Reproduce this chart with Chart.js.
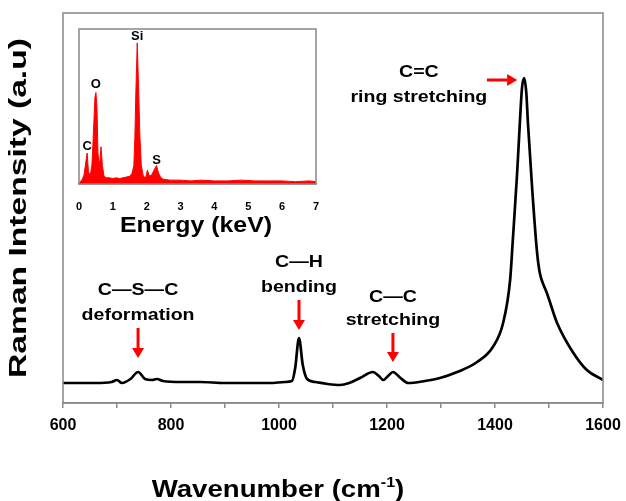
<!DOCTYPE html>
<html>
<head>
<meta charset="utf-8">
<script src="https://cdn.jsdelivr.net/npm/chart.js@4.4.1/dist/chart.umd.min.js"></script>
<style>
html, body { margin:0; padding:0; background:#fff; }
#wrap { position:relative; width:626px; height:501px; }
#main { position:absolute; left:0; top:0; }
#inset { position:absolute; left:64px; top:14px; }
</style>
</head>
<body>
<div id="wrap">
  <canvas id="main" width="626" height="501"></canvas>
  <canvas id="inset" width="266" height="226"></canvas>
</div>
<script>
// ---- Raman spectrum (main plot) ----
const ramanWavenumber = [600,630,660,690,700,709,725,739,752,765,774,785,820,854,900,950,983,1011,1024,1030,1037,1044,1052,1067,1090,1113,1130,1150,1174,1185,1193,1202,1211,1225,1239,1270,1298,1330,1367,1396,1415,1428,1433,1441,1446,1450,1454,1458,1461,1469,1478,1483,1490,1496,1515,1544,1570,1600];
const ramanIntensity  = [20,20,20,21,23,20,24,31,24,23,24,22,21,21,20,20,20,21,22,35,65,38,24,21,19,18,20,25,31,27,23,27,31,25,20,22,25,31,41,56,80,123,163,230,280,315,325,310,280,213,150,130,118,110,80,51,33,23];
const xTicksMain = [600,800,1000,1200,1400,1600];

// band assignments: label lines, text anchor (wavenumber, intensity per line), arrow from -> to
const ramanNotes = [
  { lines:['C\u2014S\u2014C','deformation'], x:739,  y:[113,88],  arrow:[739,75,739,45] },
  { lines:['C\u2014H','bending'],            x:1037, y:[141,116], arrow:[1037,103,1037,73] },
  { lines:['C\u2014C','stretching'],         x:1211, y:[106,83],  arrow:[1211,70,1211,41] },
  { lines:['C=C','ring stretching'],         x:1259, y:[331,306], arrow:[1385,323,1441,323] }
];

// ---- EDS spectrum (inset) ----
const edsEnergy = [0,0.05,0.1,0.15,0.2,0.24,0.28,0.33,0.38,0.41,0.44,0.47,0.5,0.53,0.56,0.59,0.62,0.65,0.69,0.74,0.8,0.9,1.0,1.1,1.2,1.3,1.4,1.5,1.57,1.62,1.65,1.68,1.72,1.76,1.8,1.84,1.9,1.97,2.02,2.08,2.15,2.22,2.29,2.35,2.42,2.5,2.7,3.0,3.3,3.6,4.0,4.4,4.8,5.2,5.6,6.0,6.4,6.8,7.0];
const edsCounts = [0,2,3,6,14,20,8,5,12,25,40,56,59,50,20,14,15,24,12,5,4,4,3.5,4,3.5,4,4.5,5,7,12,30,60,91,62,30,12,5,4,9,5,6,9,12,7,4,3,2.5,2.5,2,2.5,2,2,2.5,2,2,2,1.5,2,1.5];
const edsPeaks = [
  { text:'C',  e:0.24, c:24 },
  { text:'O',  e:0.50, c:64 },
  { text:'Si', e:1.72, c:95 },
  { text:'S',  e:2.29, c:15 }
];

const FONT = "'Liberation Sans', Arial, sans-serif";

function stretchText(ctx, text, x, y, sx, rot) {
  ctx.save();
  ctx.translate(x, y);
  if (rot) ctx.rotate(rot);
  ctx.scale(sx, 1);
  ctx.fillText(text, 0, 0);
  ctx.restore();
}

function redArrow(ctx, x1, y1, x2, y2) {
  const ang = Math.atan2(y2 - y1, x2 - x1);
  const head = 10, half = 6;
  ctx.save();
  ctx.strokeStyle = '#ff0000'; ctx.fillStyle = '#ff0000'; ctx.lineWidth = 3;
  ctx.beginPath();
  ctx.moveTo(x1, y1);
  ctx.lineTo(x2 - head * Math.cos(ang), y2 - head * Math.sin(ang));
  ctx.stroke();
  ctx.beginPath();
  ctx.moveTo(x2, y2);
  ctx.lineTo(x2 - head * Math.cos(ang) + half * Math.sin(ang), y2 - head * Math.sin(ang) - half * Math.cos(ang));
  ctx.lineTo(x2 - head * Math.cos(ang) - half * Math.sin(ang), y2 - head * Math.sin(ang) + half * Math.cos(ang));
  ctx.closePath();
  ctx.fill();
  ctx.restore();
}

const mainDecor = {
  id: 'mainDecor',
  afterDraw(chart) {
    const { ctx, chartArea: a, scales: { x, y } } = chart;
    ctx.save();
    ctx.strokeStyle = '#888'; ctx.lineWidth = 1.5;
    ctx.strokeRect(a.left, a.top, a.right - a.left, a.bottom - a.top);

    ctx.fillStyle = '#000'; ctx.textAlign = 'center'; ctx.textBaseline = 'middle';
    ctx.font = 'bold 17px ' + FONT;
    ramanNotes.forEach(n => {
      n.lines.forEach((t, i) => stretchText(ctx, t, x.getPixelForValue(n.x), y.getPixelForValue(n.y[i]), 1.15));
      redArrow(ctx, x.getPixelForValue(n.arrow[0]), y.getPixelForValue(n.arrow[1]),
                    x.getPixelForValue(n.arrow[2]), y.getPixelForValue(n.arrow[3]));
    });

    // x title with superscript
    const sx = 1.15;
    ctx.textAlign = 'left'; ctx.textBaseline = 'alphabetic';
    ctx.font = 'bold 24px ' + FONT;
    const t1 = 'Wavenumber (cm', t3 = ')';
    const w1 = ctx.measureText(t1).width * sx, w3 = ctx.measureText(t3).width * sx;
    ctx.font = 'bold 14px ' + FONT;
    const w2 = ctx.measureText('-1').width * sx;
    let px = 278 - (w1 + w2 + w3) / 2;
    const base = 497;
    ctx.font = 'bold 24px ' + FONT;
    stretchText(ctx, t1, px, base, sx);
    ctx.font = 'bold 14px ' + FONT;
    stretchText(ctx, '-1', px + w1, base - 10, sx);
    ctx.font = 'bold 24px ' + FONT;
    stretchText(ctx, t3, px + w1 + w2, base, sx);

    // y title
    ctx.textAlign = 'center'; ctx.textBaseline = 'middle';
    stretchText(ctx, 'Raman Intensity (a.u)', 19, 208, 1.4, -Math.PI / 2);
    ctx.restore();
  }
};

new Chart(document.getElementById('main'), {
  type: 'line',
  data: {
    datasets: [{
      data: ramanWavenumber.map((w, i) => ({ x: w, y: ramanIntensity[i] })),
      borderColor: '#000', borderWidth: 2.7, pointRadius: 0,
      cubicInterpolationMode: 'monotone', fill: false
    }]
  },
  options: {
    responsive: false, animation: false,
    layout: { padding: { left: 63, right: 23, top: 13, bottom: 0 } },
    plugins: { legend: { display: false }, tooltip: { enabled: false } },
    scales: {
      x: {
        type: 'linear', min: 600, max: 1600,
        afterFit: s => { s.height = 98; s.paddingLeft = 0; s.paddingRight = 0; },
        ticks: {
          stepSize: 100, autoSkip: false, maxRotation: 0, padding: 8, color: '#000',
          font: { family: FONT, size: 16, weight: 'bold' },
          callback: v => xTicksMain.includes(v) ? String(v) : ''
        },
        grid: { drawOnChartArea: false, drawTicks: true, tickLength: 5, color: '#888', lineWidth: 1.5 },
        border: { color: '#888', width: 1.5 }
      },
      y: { display: false, min: 0, max: 390 }
    }
  },
  plugins: [mainDecor]
});

const insetDecor = {
  id: 'insetDecor',
  afterDraw(chart) {
    const { ctx, chartArea: a, scales: { x, y } } = chart;
    ctx.save();
    ctx.strokeStyle = '#888'; ctx.lineWidth = 1.5;
    ctx.strokeRect(a.left, a.top, a.right - a.left, a.bottom - a.top);
    ctx.fillStyle = '#000'; ctx.textAlign = 'center'; ctx.textBaseline = 'middle';
    ctx.font = 'bold 13px ' + FONT;
    edsPeaks.forEach(p => ctx.fillText(p.text, x.getPixelForValue(p.e), y.getPixelForValue(p.c)));
    ctx.font = 'bold 22px ' + FONT;
    stretchText(ctx, 'Energy (keV)', 132, 212, 1.13);
    ctx.restore();
  }
};

new Chart(document.getElementById('inset'), {
  type: 'line',
  data: {
    datasets: [{
      data: edsEnergy.map((e, i) => ({ x: e, y: edsCounts[i] })),
      borderColor: '#ff0000', backgroundColor: '#ff0000', borderWidth: 1,
      pointRadius: 0, tension: 0, fill: 'origin'
    }]
  },
  options: {
    responsive: false, animation: false,
    layout: { padding: { left: 15, right: 14, top: 15, bottom: 0 } },
    plugins: { legend: { display: false }, tooltip: { enabled: false } },
    scales: {
      x: {
        type: 'linear', min: 0, max: 7,
        afterFit: s => { s.height = 56; s.paddingLeft = 0; s.paddingRight = 0; },
        ticks: { stepSize: 1, padding: 8, color: '#000', font: { family: FONT, size: 11, weight: 'bold' } },
        grid: { display: false },
        border: { color: '#888', width: 1.5 }
      },
      y: { display: false, min: 0, max: 100 }
    }
  },
  plugins: [insetDecor]
});
</script>
</body>
</html>
